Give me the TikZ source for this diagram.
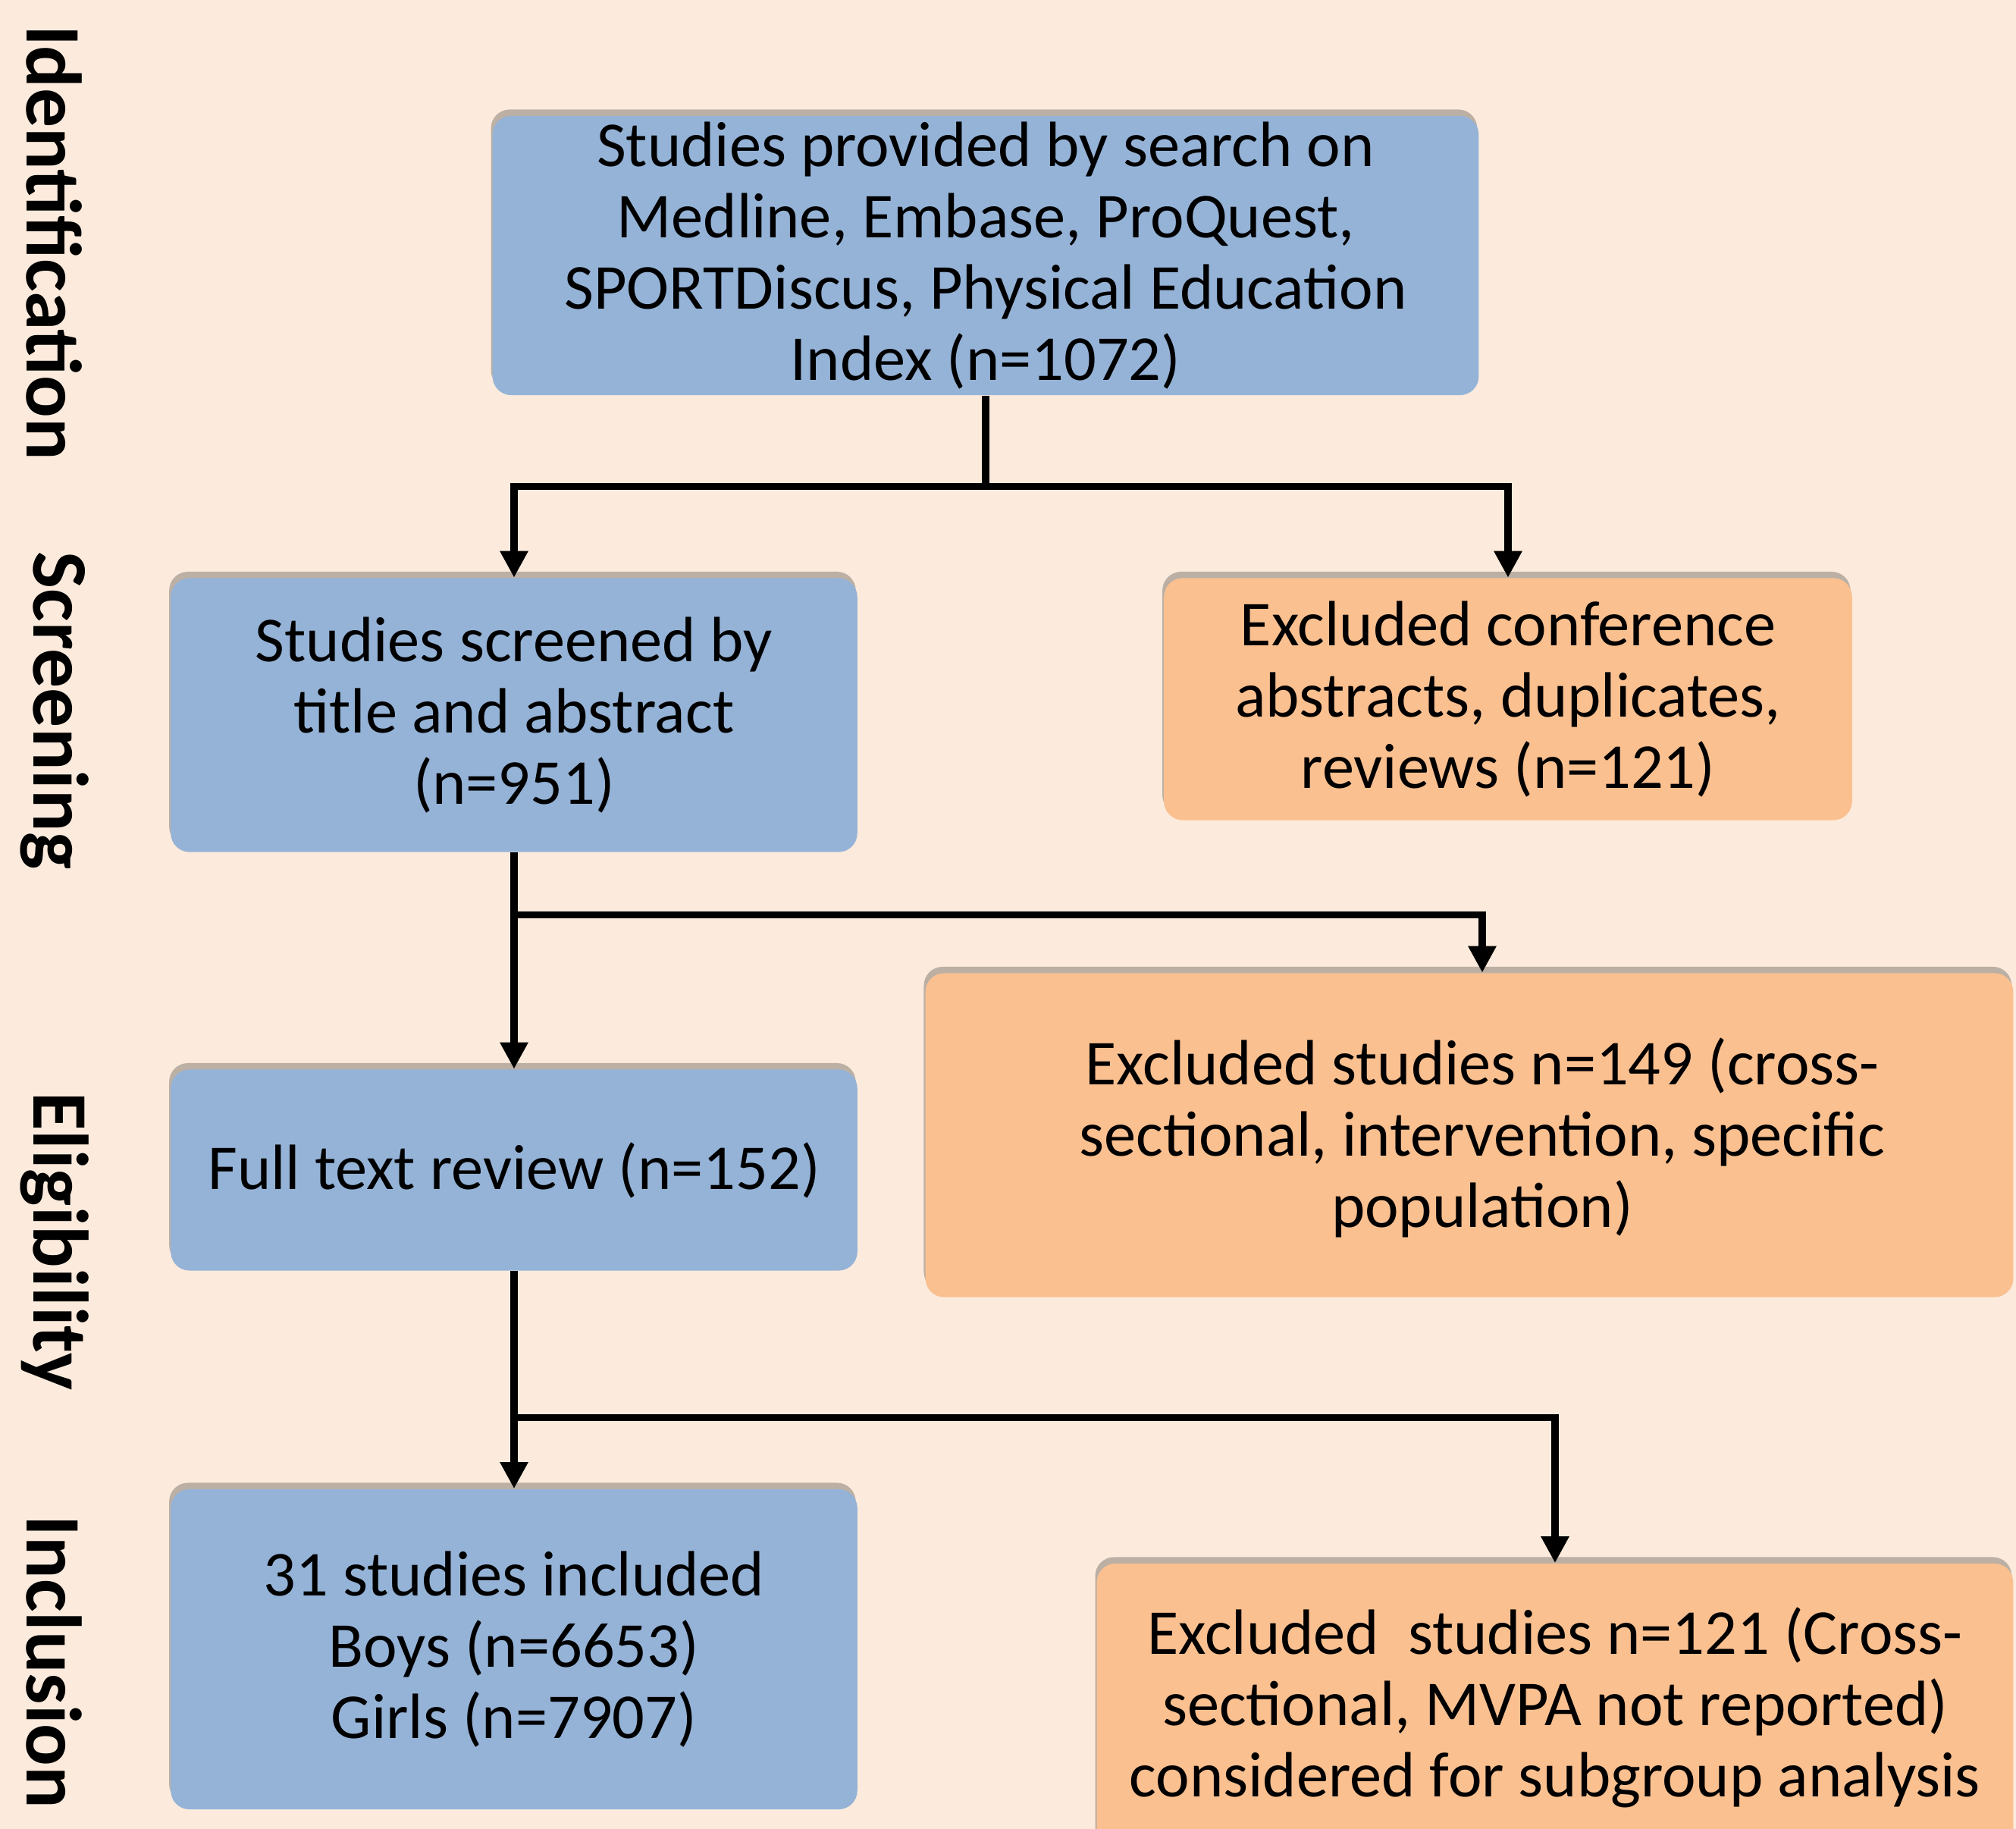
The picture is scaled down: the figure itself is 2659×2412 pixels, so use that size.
\documentclass[tikz,border=0pt]{standalone}
\usepackage{fontspec}
\setmainfont{Carlito}
\usetikzlibrary{ % tikz packages
    positioning,
    arrows.meta,shadows
}
\definecolor{bgcream}{RGB}{252,235,221}
\definecolor{boxblue}{RGB}{149,179,215}
\definecolor{boxorange}{RGB}{250,192,144}
\tikzset{stage/.style={
    rounded corners=7pt,
    align=center,
    inner sep=0pt,
    font=\fontsize{24}{26.7}\selectfont,
    drop shadow={shadow xshift=-0.6pt,shadow yshift=2.4pt,fill=black,opacity=0.25}
}}
\tikzset{bluebox/.style={stage,fill=boxblue}}
\tikzset{orangebox/.style={stage,fill=boxorange}}
\tikzset{phase/.style={rotate=-90,font=\fontsize{29.5}{32}\selectfont\bfseries}}
\tikzset{flow/.style={line width=2.6pt,-{Triangle[length=10pt,width=10pt]}}}

\begin{document}
\begin{tikzpicture}[x=0.01cm,y=-0.01cm]
        \useasboundingbox (0,0) rectangle (2659,2412);
        \fill[bgcream] (0,0) rectangle (2659,2412);
        \clip (0,0) rectangle (2659,2412);

        % phases down the left side
        \node[phase] (identlbl) at (72,320) {Identification};
        \node[phase] (screenlbl) at (72,937) {Screening};
        \node[phase] (eliglbl) at (72,1637) {Eligibility};
        \node[phase] (incllbl) at (72,2192) {Inclusion};

        % boxes
        \node[bluebox,minimum width=13cm,minimum height=3.68cm] (search) at (1300,337)
            {Studies provided by search on\\ Medline, Embase, ProQuest,\\ SPORTDiscus, Physical Education\\ Index (n=1072)};
        \node[bluebox,minimum width=9.05cm,minimum height=3.61cm] (screen) at (678,943)
            {Studies screened by\\ title and abstract\\ (n=951)};
        \node[orangebox,minimum width=9.07cm,minimum height=3.19cm] (conf) at (1989,922)
            {Excluded conference\\ abstracts, duplicates,\\ reviews (n=121)};
        \node[orangebox,minimum width=14.34cm,minimum height=4.27cm] (excl149) at (1938,1497)
            {\hspace*{0.34cm}\raisebox{-0.09cm}[\height][\depth]{\begin{tabular}{@{}c@{}}Excluded studies n=149 (cross-\\ sectional, intervention, specific\\ population)\end{tabular}}};
        \node[bluebox,minimum width=9.05cm,minimum height=2.65cm] (full) at (678,1543)
            {Full text review (n=152)};
        \node[bluebox,minimum width=9.05cm,minimum height=4.22cm] (incl) at (678,2175)
            {31 studies included\\ Boys (n=6653)\\ Girls (n=7907)};
        \node[orangebox,minimum width=12.08cm,minimum height=3.8cm] (excl121) at (2051,2252)
            {Excluded\ \ studies n=121 (Cross-\\ sectional, MVPA not reported)\\ considered for subgroup analysis};

        % connectors
        \draw[flow] (search.south) -- ++(0,120) -| (screen.north);
        \draw[flow] (search.south) -- ++(0,120) -| (conf.north);
        \draw[flow] (screen.south) -- (full.north);
        \draw[flow] (screen.south) -- ++(0,82) -| ([xshift=0.17cm]excl149.north);
        \draw[flow] (full.south) -- (incl.north);
        \draw[flow] (full.south) -- ++(0,193) -| (excl121.north);
    \end{tikzpicture}
\end{document}
